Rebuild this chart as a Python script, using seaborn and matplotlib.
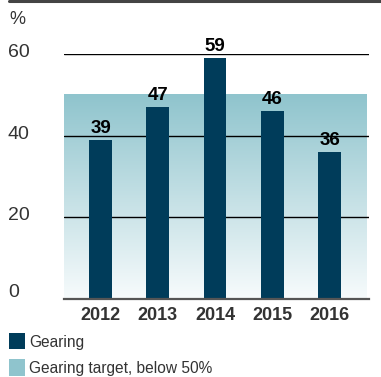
import numpy as np
import pandas as pd
import matplotlib
matplotlib.use("Agg")
import matplotlib.pyplot as plt
import matplotlib.transforms as mtransforms
from matplotlib.patches import Rectangle
from matplotlib.lines import Line2D
import seaborn as sns

years = ["2012", "2013", "2014", "2015", "2016"]
gearing = [39, 47, 59, 46, 36]
target = 50
yticks = [0, 20, 40, 60]
legend_labels = ["Gearing", "Gearing target, below 50%"]

bar_color = "#003c5a"
band_top = np.array([0x8f, 0xc4, 0xcd]) / 255
band_bot = np.array([0xf7, 0xfb, 0xfc]) / 255
text_color = "#333333"

sns.set_theme(style="white")
plt.rcParams["font.family"] = ["Liberation Sans", "DejaVu Sans"]

W, H = 381, 377
fig = plt.figure(figsize=(W / 100, H / 100), dpi=100)

def fx(px):
    return px / W

def fy(py):
    return 1 - py / H

ax = fig.add_axes([fx(64), fy(299), fx(369) - fx(64), fy(54) - fy(299)])

df = pd.DataFrame({"year": years, "gearing": gearing})
sns.barplot(data=df, x="year", y="gearing", color=bar_color, width=0.40,
            saturation=1, ax=ax, zorder=3, linewidth=0, edgecolor="none")

xl = (-0.638, 4.69)

# gradient target band
n = 256
grad = np.linspace(0, 1, n)[:, None]
img = band_top[None, None, :] * (1 - grad[:, :, None]) + band_bot[None, None, :] * grad[:, :, None]
img = np.repeat(img, 2, axis=1)
ax.imshow(img, extent=[xl[0], 4.655, 0, target], aspect="auto", zorder=0,
          interpolation="bilinear", origin="upper")
ax.set_xlim(*xl)
ax.set_ylim(0, 60)

# gridlines
for v in yticks[1:]:
    ax.axhline(v, color="black", lw=1.0, zorder=2)

for s in ["top", "right", "left"]:
    ax.spines[s].set_visible(False)
ax.spines["bottom"].set_color("#555555")
ax.spines["bottom"].set_linewidth(1.6)
ax.spines["bottom"].set_zorder(4)

ax.set_xlabel("")
ax.set_ylabel("")
ax.set_yticks([])
ax.tick_params(axis="x", length=0, pad=6)
for lab in ax.get_xticklabels():
    lab.set_fontsize(13)
    lab.set_fontweight("bold")
    lab.set_color(text_color)

# value labels
for i, v in enumerate(gearing):
    ax.text(i, v + 0.7, str(v), ha="center", va="bottom", fontsize=13.5,
            fontweight="bold", color="black", clip_on=False, zorder=5)

# y tick labels, left aligned
tr = mtransforms.blended_transform_factory(fig.transFigure, ax.transData)
for v in yticks:
    yy = v + (1.5 if v == 0 else 0.4)
    ax.text(fx(8), yy, str(v), transform=tr, ha="left", va="center",
            fontsize=14, color=text_color, clip_on=False)

fig.text(fx(9), fy(19), "%", ha="left", va="center", fontsize=13, color=text_color)

# top rule
fig.add_artist(Line2D([fx(9), 1], [fy(1), fy(1)], color="#444444", lw=2.2,
                      transform=fig.transFigure))

# legend
fig.add_artist(Rectangle((fx(9), fy(349)), fx(16), fy(333) - fy(349),
                         transform=fig.transFigure, color=bar_color, lw=0))
fig.add_artist(Rectangle((fx(9), fy(376)), fx(16), fy(359) - fy(376),
                         transform=fig.transFigure, color="#8fc4cd", lw=0))
fig.text(fx(29), fy(342), legend_labels[0], ha="left", va="center", fontsize=11.2, color=text_color)
fig.text(fx(29), fy(368), legend_labels[1], ha="left", va="center", fontsize=11.2, color=text_color)

fig.savefig("out.png", dpi=100)
